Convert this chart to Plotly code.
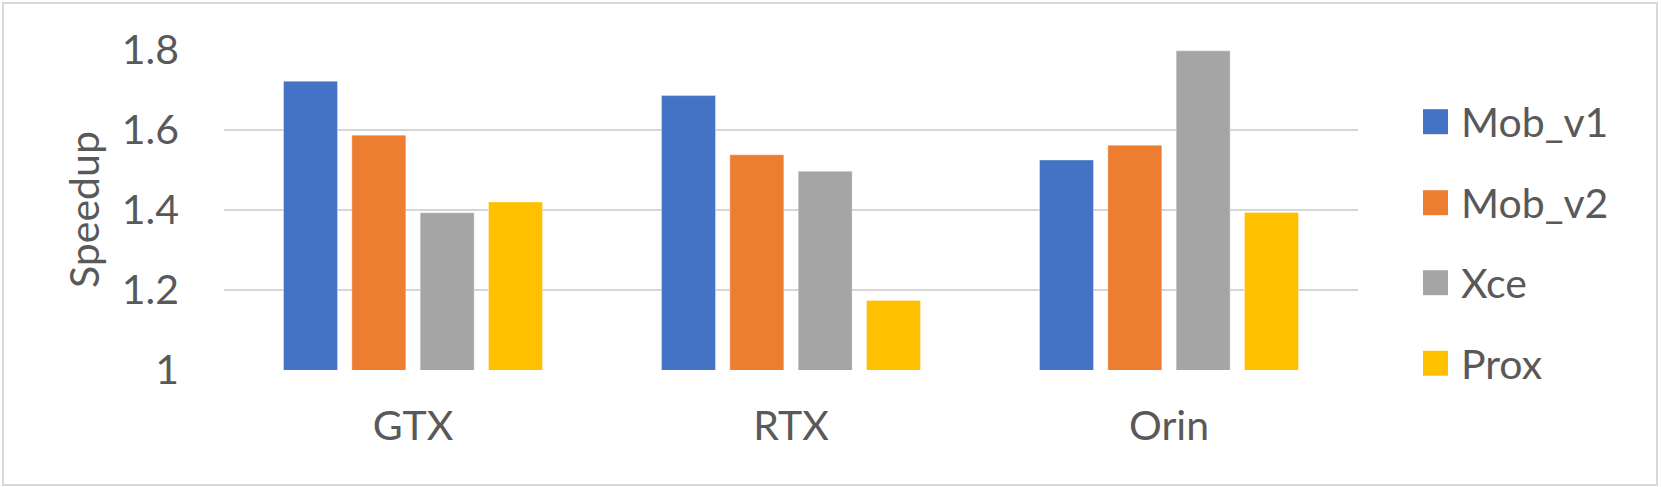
import plotly.graph_objects as go

# dati
gpus = ["GTX", "RTX", "Orin"]
mob_v1 = [1.722, 1.686, 1.525]
mob_v2 = [1.587, 1.538, 1.562]
xce = [1.393, 1.497, 1.798]
prox = [1.420, 1.174, 1.394]

serie = ["Mob_v1", "Mob_v2", "Xce", "Prox"]
colori = ["#4472C4", "#ED7D31", "#A5A5A5", "#FFC000"]
valori = [mob_v1, mob_v2, xce, prox]

W, H = 1661, 487
L, R, T, B = 224, 1358, 50, 370
font_txt = "Lato, 'Open Sans', sans-serif"
grigio = "#595959"


# pixel -> coordinate paper
def px(x):
    return (x - L) / (R - L)


def py(y):
    return (B - y) / (B - T)


fig = go.Figure()

for nome, col, v in zip(serie, colori, valori):
    fig.add_trace(go.Bar(
        x=gpus,
        y=v,
        name=nome,
        marker=dict(color=col, line=dict(color="rgba(255,255,255,0.35)", width=1)),
        showlegend=False
    ))

# legenda manuale (quadrati grandi come in Excel)
righe = [121.7, 202.7, 282.7, 363.3]
for nome, col, yc in zip(serie, colori, righe):
    fig.add_shape(
        type="rect", xref="paper", yref="paper",
        x0=px(1423), x1=px(1448), y0=py(yc + 12.5), y1=py(yc - 12.5),
        fillcolor=col, line=dict(width=0)
    )
    fig.add_annotation(
        x=px(1459), y=py(yc), xref="paper", yref="paper",
        text=nome, showarrow=False, xanchor="left", yanchor="middle",
        font=dict(size=41, color=grigio, family=font_txt)
    )

# titolo asse y
fig.add_annotation(
    x=px(83), y=py(210), xref="paper", yref="paper",
    text="Speedup", textangle=-90, showarrow=False,
    xanchor="center", yanchor="middle",
    font=dict(size=41, color=grigio, family=font_txt)
)

# cornice esterna
fig.add_shape(
    type="rect", xref="paper", yref="paper",
    x0=px(3), x1=px(1657), y0=py(485), y1=py(3),
    line=dict(color="#d9d9d9", width=2)
)

fig.update_layout(
    width=W,
    height=H,
    margin=dict(l=L, r=W - R, t=T, b=H - B),
    plot_bgcolor="white",
    paper_bgcolor="white",
    barmode="group",
    bargap=0.277,
    bargroupgap=0.21,
    font=dict(family=font_txt, color=grigio, size=41),
    xaxis=dict(
        showgrid=False,
        showline=False,
        zeroline=False,
        tickfont=dict(size=41, color=grigio),
        ticklabelstandoff=28
    ),
    yaxis=dict(
        range=[1, 1.8],
        tickvals=[1, 1.2, 1.4, 1.6, 1.8],
        ticktext=["1", "1.2", "1.4", "1.6", "1.8"],
        showgrid=True,
        gridcolor="#d6d6d6",
        gridwidth=2,
        zeroline=False,
        showline=False,
        tickfont=dict(size=41, color=grigio),
        ticklabelstandoff=44
    )
)

# niente margine del body, così la figura parte da (0, 0)
fig.write_html(
    "out.html",
    config={"displayModeBar": False},
    post_script="document.body.style.margin='0';"
)
